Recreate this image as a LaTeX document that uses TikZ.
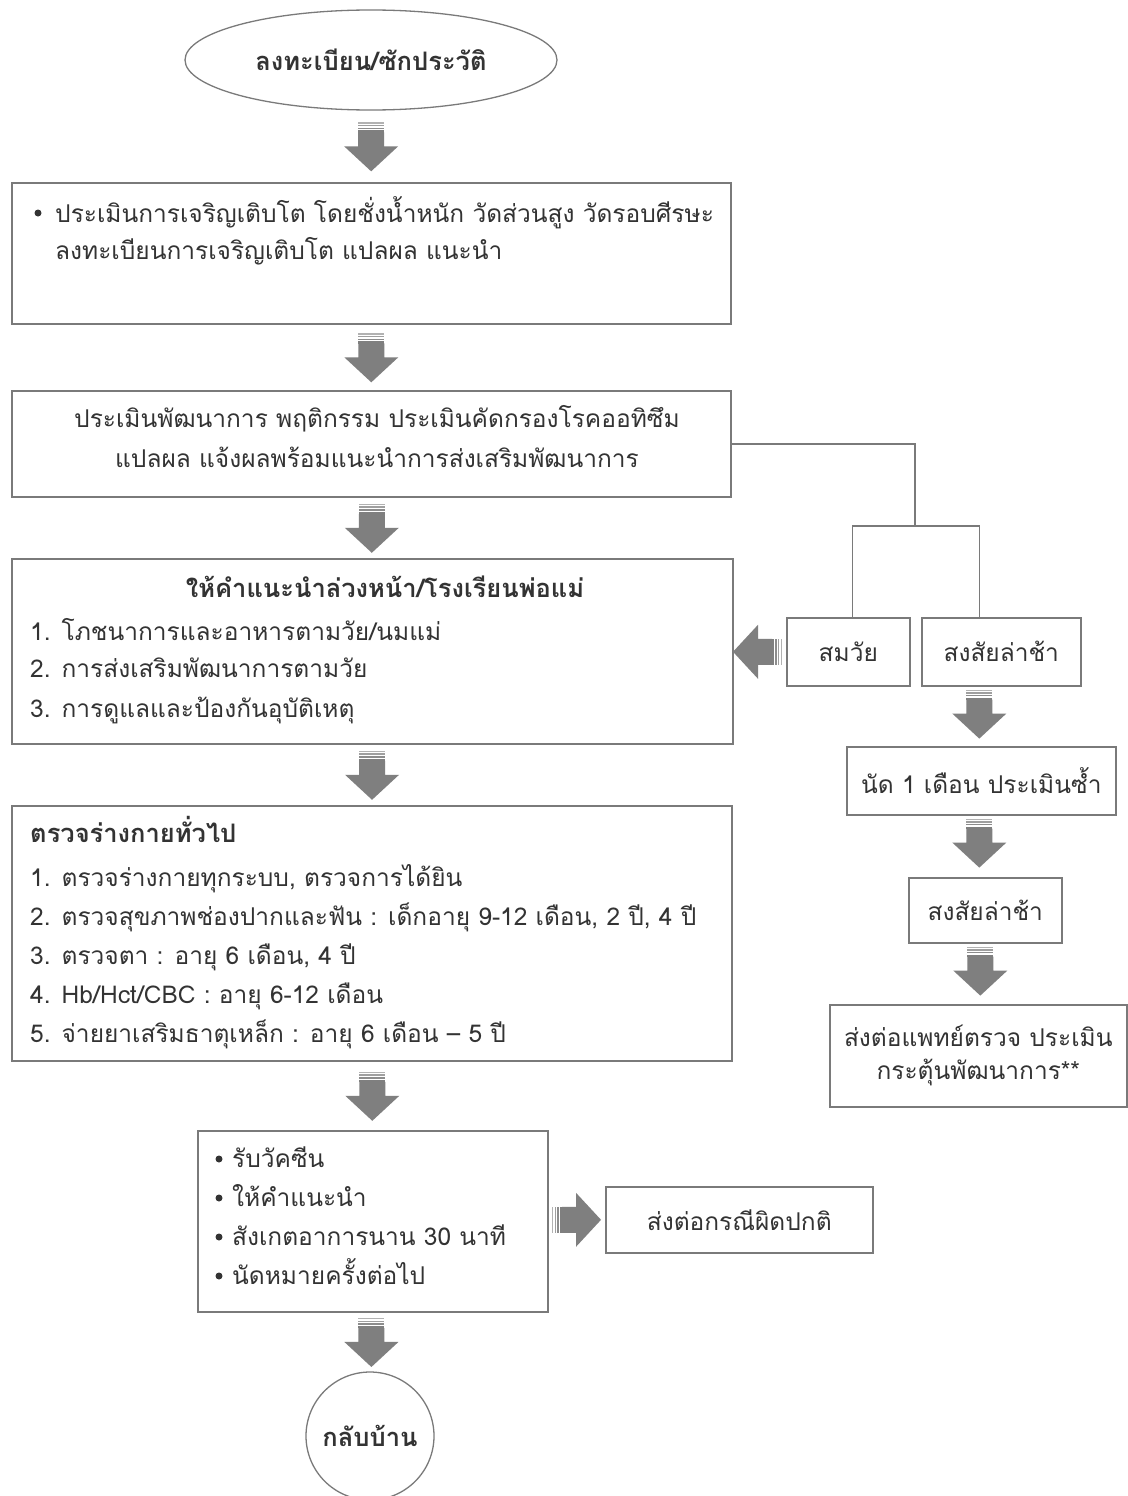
\documentclass[tikz,border=0pt]{standalone}
\usepackage{fontspec}
\setmainfont[Script=Thai]{Loma}
\usetikzlibrary{shapes.geometric,calc}
\definecolor{arrowgray}{HTML}{7F7F7F}
\definecolor{linegray}{HTML}{7A7A7A}
\definecolor{textgray}{HTML}{333333}
\tikzset{
  box/.style={draw=linegray, line width=1.6pt, fill=white, inner sep=0pt, text=textgray, font=\fontsize{24.5}{33}\selectfont},
  conn/.style={draw=linegray, line width=1.6pt},
  txt/.style={text=textgray, inner sep=0pt, font=\fontsize{24.5}{38}\selectfont},
  boldtxt/.style={text=textgray, inner sep=0pt, font=\fontsize{25.5}{38}\selectfont\bfseries},
  bul/.style={fill=textgray},
  blockarrow/.pic={
    \fill[arrowgray] (-13,-14) -- (13,-14) -- (13,0) -- (27,0) -- (0,25) -- (-27,0) -- (-13,0) -- cycle;
    \fill[arrowgray!60] (-13,-24) rectangle (13,-22.6);
    \fill[arrowgray!75] (-13,-21.4) rectangle (13,-20);
    \fill[arrowgray!90] (-13,-18.8) rectangle (13,-17.2);
    \fill[arrowgray] (-13,-16) rectangle (13,-13.5);
  }
}
\begin{document}
\begin{tikzpicture}[x=1pt,y=-1pt]
\useasboundingbox[fill=white] (0,0) rectangle (1127,1496);

% main column
\node[ellipse, draw=linegray, line width=1.3pt, minimum width=372, minimum height=100, inner sep=0pt, text=textgray, font=\fontsize{25.5}{33}\selectfont\bfseries] (start) at (371,60) {ลงทะเบียน/ซักประวัติ};

\node[box, anchor=north west, minimum width=719, minimum height=141] (b1) at (11,182) {};
\fill[bul] (38,213) circle (3.5);
\node[txt, anchor=base west] (b1l1) at (55,222) {ประเมินการเจริญเติบโต โดยชั่งน้ำหนัก วัดส่วนสูง วัดรอบศีรษะ};
\node[txt, anchor=base west] (b1l2) at (55,259) {ลงทะเบียนการเจริญเติบโต แปลผล แนะนำ};

\node[box, anchor=north west, minimum width=719, minimum height=106] (b2) at (11,390) {};
\node[txt, anchor=base] (b2l1) at (377,427) {ประเมินพัฒนาการ พฤติกรรม ประเมินคัดกรองโรคออทิซึม};
\node[txt, anchor=base] (b2l2) at (377,467) {แปลผล แจ้งผลพร้อมแนะนำการส่งเสริมพัฒนาการ};

\node[box, anchor=north west, minimum width=721, minimum height=185] (b3) at (11,558) {};
\node[boldtxt, anchor=base] (b3t) at (385,597) {ให้คำแนะนำล่วงหน้า/โรงเรียนพ่อแม่};
\node[txt, anchor=base west] (b3l1) at (30,640) {1. โภชนาการและอาหารตามวัย/นมแม่};
\node[txt, anchor=base west] (b3l2) at (30,677) {2. การส่งเสริมพัฒนาการตามวัย};
\node[txt, anchor=base west] (b3l3) at (30,717) {3. การดูแลและป้องกันอุบัติเหตุ};

\node[box, anchor=north west, minimum width=720, minimum height=255] (b4) at (11,805) {};
\node[boldtxt, anchor=base west] (b4t) at (30,842) {ตรวจร่างกายทั่วไป};
\node[txt, anchor=base west] (b4l1) at (30,886) {1. ตรวจร่างกายทุกระบบ, ตรวจการได้ยิน};
\node[txt, anchor=base west] (b4l2) at (30,925) {2. ตรวจสุขภาพช่องปากและฟัน : เด็กอายุ 9-12 เดือน, 2 ปี, 4 ปี};
\node[txt, anchor=base west] (b4l3) at (30,964) {3. ตรวจตา : อายุ 6 เดือน, 4 ปี};
\node[txt, anchor=base west] (b4l4) at (30,1003) {4. Hb/Hct/CBC : อายุ 6-12 เดือน};
\node[txt, anchor=base west] (b4l5) at (30,1042) {5. จ่ายยาเสริมธาตุเหล็ก : อายุ 6 เดือน – 5 ปี};

\node[box, anchor=north west, minimum width=350, minimum height=181] (b5) at (197,1130) {};
\foreach \yy in {1159,1198,1237,1276} \fill[bul] (219,\yy) circle (3.5);
\node[txt, anchor=base west] (b5l1) at (232,1167) {รับวัคซีน};
\node[txt, anchor=base west] (b5l2) at (232,1206) {ให้คำแนะนำ};
\node[txt, anchor=base west] (b5l3) at (232,1245) {สังเกตอาการนาน 30 นาที};
\node[txt, anchor=base west] (b5l4) at (232,1284) {นัดหมายครั้งต่อไป};

\node[box, anchor=north west, minimum width=267, minimum height=66] (abn) at (605,1186) {ส่งต่อกรณีผิดปกติ};

\node[circle, draw=linegray, line width=1.3pt, minimum size=128, inner sep=0pt, text=textgray, font=\fontsize{25.5}{33}\selectfont\bfseries] (home) at (370,1436) {กลับบ้าน};

% right column
\node[box, anchor=north west, minimum width=123, minimum height=68] (ok) at (786,617) {สมวัย};
\node[box, anchor=north west, minimum width=159, minimum height=68] (delay) at (921,617) {สงสัยล่าช้า};
\node[box, anchor=north west, minimum width=269, minimum height=68] (appt) at (846,746) {นัด 1 เดือน ประเมินซ้ำ};
\node[box, anchor=north west, minimum width=153, minimum height=65] (delay2) at (908,877) {สงสัยล่าช้า};
\node[box, anchor=north west, minimum width=297, minimum height=102, align=center] (refer) at (829,1004) {ส่งต่อแพทย์ตรวจ ประเมิน\\กระตุ้นพัฒนาการ**};

% connectors
\coordinate (j1) at (915,526);
\draw[conn] (b2.east) -| (j1);
\draw[conn] ([xshift=4pt]ok.north) |- (j1) -| ([xshift=-22pt]delay.north);

% block arrows
\pic at ($(start.south)!0.5!(b1.north)$) {blockarrow};
\pic at ($(b1.south)!0.5!(b2.north)$) {blockarrow};
\pic at ($(b2.south)!0.5!(b3.north)$) {blockarrow};
\pic at ($(b3.south)!0.5!(b4.north)$) {blockarrow};
\pic at ($(b4.south)!0.5!(b5.north)$) {blockarrow};
\pic at ($(b5.south)!0.5!(home.north)$) {blockarrow};
\pic[rotate=90] at ($(abn.west)+(-29,0)$) {blockarrow};
\pic[rotate=-90] at ($(ok.west)+(-28,0)$) {blockarrow};
\pic at ([xshift=-22pt,yshift=-27pt]delay.south) {blockarrow};
\pic at ([xshift=-2pt,yshift=-27pt]appt.south) {blockarrow};
\pic at ([xshift=-5pt,yshift=-27pt]delay2.south) {blockarrow};
\end{tikzpicture}
\end{document}
